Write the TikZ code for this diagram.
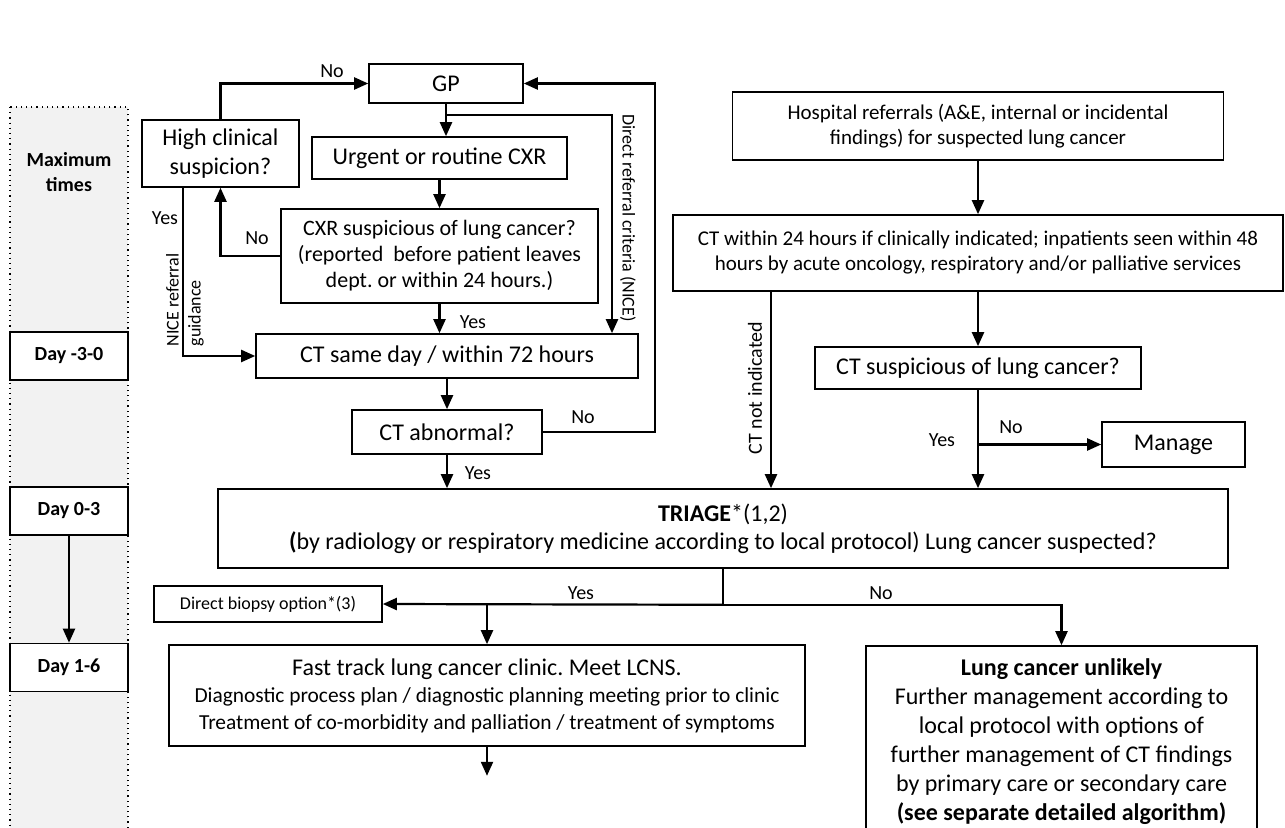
\documentclass[tikz,border=0pt]{standalone}
\usepackage{fontspec}
\setmainfont{Carlito}
\usetikzlibrary{arrows.meta,positioning}
\frenchspacing

\begin{document}
\begin{tikzpicture}[x=0.5pt,y=0.5pt,>={Triangle[length=7pt,width=6pt]},line width=1.1pt,
  box/.style={draw,line width=0.8pt,align=center,inner sep=1pt,font=\fontsize{12}{14.5}\selectfont},
  smallbox/.style={box,font=\fontsize{10.5}{12.5}\selectfont},
  daybox/.style={draw,fill=white,line width=0.8pt,minimum width=59pt,minimum height=24pt,font=\bfseries\fontsize{10}{12}\selectfont},
  lbl/.style={inner sep=1pt,font=\fontsize{10}{12}\selectfont},
  sidelbl/.style={inner sep=1pt,align=left,font=\fontsize{9}{11}\selectfont}]
  \useasboundingbox (0,0) rectangle (1285,-828);

  % time column
  \draw[dotted,line width=0.6pt,fill=gray!10] (10,-107) rectangle (128,-840);
  \node[font=\bfseries\fontsize{10}{12.5}\selectfont,align=center] (maxt) at (69,-172) {Maximum\\times};
  \node[daybox] (day1) at (69,-356)   {Day -3-0};
  \node[daybox] (day2) at (69,-511)   {Day 0-3};
  \node[daybox] (day3) at (69,-667.5) {Day 1-6};

  % GP pathway
  \node[box,minimum width=77pt,minimum height=19.5pt]    (gp)   at (446,-83.5)   {GP};
  \node[box,minimum width=78.5pt,minimum height=33.5pt]  (high) at (220.5,-153.5) {High clinical\\suspicion?};
  \node[box,minimum width=127.5pt,minimum height=21pt]   (urg)  at (439.5,-158)  {Urgent or routine CXR};
  \node[box,minimum width=158.5pt,minimum height=47pt,font=\fontsize{11}{13}\selectfont]
                                                          (cxr)  at (439.5,-256)  {CXR suspicious of lung cancer?\\(reported\ \ before patient leaves\\dept. or within 24 hours.)};
  \node[box,minimum width=191pt,minimum height=22pt]     (ctsd) at (447,-356)    {CT same day / within 72 hours};
  \node[box,minimum width=95pt,minimum height=22pt]      (ctab) at (447,-432)    {CT abnormal?};

  % hospital pathway
  \node[smallbox,minimum width=245.5pt,minimum height=34pt] (hosp)  at (978,-126)    {Hospital referrals (A\&E, internal or incidental\\findings) for suspected lung cancer};
  \node[smallbox,minimum width=305pt,minimum height=38pt]   (ct24)  at (978,-253)    {CT within 24 hours if clinically indicated; inpatients seen within 48\\hours by acute oncology, respiratory and/or palliative services};
  \node[box,minimum width=163pt,minimum height=21pt]        (ctsus) at (978,-368)    {CT suspicious of lung cancer?};
  \node[box,minimum width=71.5pt,minimum height=22.5pt]     (manage) at (1173.5,-444.5) {Manage};

  % triage and outcomes
  \node[box,minimum width=505pt,minimum height=39.5pt,font=\fontsize{12}{14}\selectfont]
        (triage) at (723,-528.5) {\textbf{TRIAGE}*(1,2)\\\textbf{(}by radiology or respiratory medicine according to local protocol) Lung cancer suspected?};
  \node[box,minimum width=114pt,minimum height=18pt,font=\fontsize{9}{11}\selectfont]
        (dbio) at (268,-604) {Direct biopsy option*(3)};
  \node[box,minimum width=318pt,minimum height=50.5pt,font=\fontsize{10.7}{13.5}\selectfont]
        (fast) at (487,-695.5) {{\fontsize{12}{13.5}\selectfont Fast track lung cancer clinic. Meet LCNS.}\\Diagnostic process plan / diagnostic planning meeting prior to clinic\\Treatment of co-morbidity and palliation / treatment of symptoms};
  \node[box,minimum width=195.5pt,minimum height=96pt,font=\fontsize{12}{14.5}\selectfont]
        (lung) at (1061.5,-742) {\textbf{Lung cancer unlikely}\\Further management according to\\local protocol with options of\\further management of CT findings\\by primary care or secondary care\\\textbf{(see separate detailed algorithm)}};

  \coordinate (split)  at (447,-115);
  \coordinate (direct) at (612,-115);
  \coordinate (loop)   at (655,-83.5);
  \coordinate (cni)    at ([xshift=-103.5pt]ct24.south);
  \coordinate (nice)   at ([xshift=-18.75pt]high.south);
  \coordinate (brm)    at (ctsus.south |- manage.west);
  \coordinate (tb)     at ([yshift=-18pt]triage.south);
  \coordinate (fend)   at ([yshift=-14.5pt]fast.south);

  \draw[->] (high.north) |- (gp.west);
  \draw[->] (gp.south) -- (gp.south |- urg.north);
  \draw[->] (split) -- (direct) -- (direct |- ctsd.north);
  \draw[->] (urg.south) -- (urg.south |- cxr.north);
  \draw[->] (cxr.west) -| (high.south);
  \draw[->] (nice) |- (ctsd.west);
  \draw[->] (cxr.south) -- (cxr.south |- ctsd.north);
  \draw[->] (ctsd.south) -- (ctab.north);
  \draw[->] (ctab.south) -- (ctab.south |- triage.north);
  \draw[->] (ctab.east) -| (loop) -- (gp.east);

  \draw[->] (hosp.south) -- (ct24.north);
  \draw[->] (ct24.south) -- (ctsus.north);
  \draw[->] (cni) -- (cni |- triage.north);
  \draw[->] (ctsus.south) -- (ctsus.south |- triage.north);
  \draw[->] (brm) -- (manage.west);

  \draw (triage.south) -- (tb);
  \draw[->] (tb) -- (dbio.east);
  \draw[->] (tb) -| (lung.north);
  \draw[->] (fast.north |- tb) -- (fast.north);
  \draw[->] (fast.south) -- (fend);
  \draw[->] (day2) -- (day3);

  \node[lbl] (nohigh)  at (332,-71)   {No};
  \node[lbl] (nocxr)   at (257,-238)  {No};
  \node[lbl] (yeshigh) at (165,-218)  {Yes};
  \node[lbl] (yescxr)  at (473,-322)  {Yes};
  \node[lbl] (yesctab) at (478,-473)  {Yes};
  \node[lbl] (noctab)  at (583,-417)  {No};
  \node[lbl] (nosus)   at (1011,-427) {No};
  \node[lbl] (yessus)  at (942,-440)  {Yes};
  \node[lbl] (yestri)  at (581,-593)  {Yes};
  \node[lbl] (notri)   at (881,-593)  {No};
  \node[sidelbl,rotate=90]  (nicelbl)   at (185,-300) {NICE referral\\guidance};
  \node[sidelbl,rotate=-90] (directlbl) at (628,-218) {Direct referral criteria (NICE)};
  \node[sidelbl,rotate=90,font=\fontsize{10}{12}\selectfont] (cnilbl) at (755,-388) {CT not indicated};
\end{tikzpicture}
\end{document}
